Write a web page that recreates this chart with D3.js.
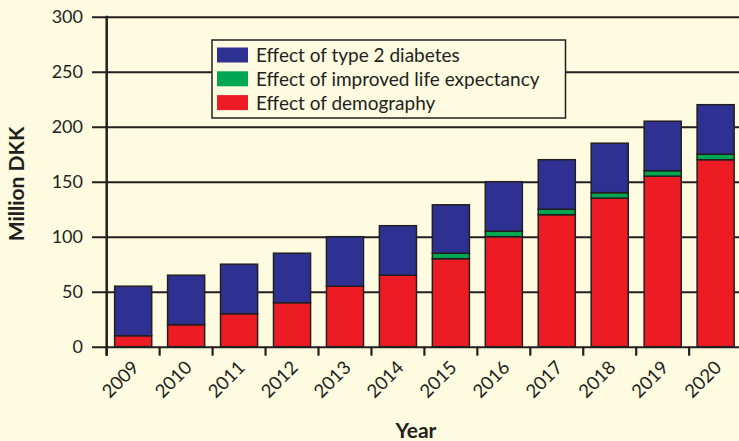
<!DOCTYPE html>
<html>
<head>
<meta charset="utf-8">
<script src="https://cdn.jsdelivr.net/npm/d3@7"></script>
<style>
  html, body { margin: 0; padding: 0; background: #FEFBE0; }
  svg { display: block; }
  text { font-family: Lato, "Open Sans", sans-serif; fill: #231F20; }
</style>
</head>
<body>
<script>
const years = ["2009","2010","2011","2012","2013","2014","2015","2016","2017","2018","2019","2020"];
const demography = [10, 20, 30, 40, 55, 65, 80, 100, 120, 135, 155, 170];
const lifeExpectancy = [0, 0, 0, 0, 0, 0, 5, 5, 5, 5, 5, 5];
const diabetes = [45, 45, 45, 45, 45, 45, 44, 45, 45, 45, 45, 45];
const yTicks = [0, 50, 100, 150, 200, 250, 300];
const seriesNames = ["Effect of demography", "Effect of improved life expectancy", "Effect of type 2 diabetes"];
const seriesColors = ["#ED1C24", "#00A651", "#2E3192"];
const legendOrder = [2, 1, 0];

const W = 739, H = 441;
const ink = "#231F20";
const bg = "#FEFBE0";

const svg = d3.select("body").append("svg").attr("width", W).attr("height", H);
svg.append("rect").attr("width", W).attr("height", H).attr("fill", bg);

const axisX = 106.7, plotRight = 742.1, tickLeft = 92;
const y = d3.scaleLinear().domain([0, 300]).range([346.7, 16.7]);
const x = d3.scaleBand().domain(years).range([axisX, plotRight]).paddingInner(0.3).paddingOuter(0.15);

// gridlines + y labels
const yAxis = d3.axisLeft(y).tickValues(yTicks).tickSize(-(plotRight - tickLeft)).tickPadding(9);
const gy = svg.append("g").attr("transform", `translate(${tickLeft},0)`).call(yAxis);
gy.select(".domain").remove();
gy.selectAll(".tick line").attr("stroke", ink).attr("stroke-width", 2);
gy.selectAll(".tick text").attr("font-size", 18).attr("fill", ink).style("font-family", "Lato, sans-serif");

// x tick marks at band boundaries
const bandStart = d => x(d) - x.step() * x.paddingOuter();
svg.append("g").selectAll("line").data(years).join("line")
  .attr("x1", d => bandStart(d)).attr("x2", d => bandStart(d))
  .attr("y1", y(0)).attr("y2", y(0) + 9)
  .attr("stroke", ink).attr("stroke-width", 2.2);

// y axis line
svg.append("line").attr("x1", axisX).attr("x2", axisX)
  .attr("y1", y(300) - 1).attr("y2", y(0) + 9)
  .attr("stroke", ink).attr("stroke-width", 2.5);

// stacked bars
const table = years.map((yr, i) => ({ year: yr, s0: demography[i], s1: lifeExpectancy[i], s2: diabetes[i] }));
const stack = d3.stack().keys(["s0", "s1", "s2"])(table);
const gBars = svg.append("g");
stack.forEach((layer, li) => {
  gBars.append("g").selectAll("rect").data(layer.filter(d => d[1] - d[0] > 0)).join("rect")
    .attr("x", d => x(d.data.year))
    .attr("width", x.bandwidth())
    .attr("y", d => y(d[1]))
    .attr("height", d => y(d[0]) - y(d[1]))
    .attr("fill", seriesColors[li])
    .attr("stroke", ink).attr("stroke-width", 1.5);
});

// x labels
svg.append("g").selectAll("text").data(years).join("text")
  .attr("text-anchor", "end")
  .attr("font-size", 18.5)
  .attr("transform", d => `translate(${x(d) + x.bandwidth() / 2 + 7},${y(0) + 22}) rotate(-45)`)
  .text(d => d);

// axis titles
svg.append("text").attr("text-anchor", "middle").attr("font-weight", "bold").attr("font-size", 21)
  .attr("x", 416).attr("y", 438).text("Year");
svg.append("text").attr("text-anchor", "middle").attr("font-weight", "bold").attr("font-size", 21)
  .attr("transform", "translate(23.5,184) rotate(-90)").text("Million DKK");

// legend
const lg = svg.append("g");
lg.append("rect").attr("x", 212).attr("y", 40).attr("width", 353.5).attr("height", 78)
  .attr("fill", bg).attr("stroke", ink).attr("stroke-width", 1.5);
legendOrder.forEach((si, k) => {
  const ry = 47.5 + k * 23.8;
  lg.append("rect").attr("x", 217).attr("y", ry).attr("width", 31).attr("height", 15)
    .attr("fill", seriesColors[si]);
  lg.append("text").attr("x", 256).attr("y", ry + 14.5).attr("font-size", 19).text(seriesNames[si]);
});
</script>
</body>
</html>
